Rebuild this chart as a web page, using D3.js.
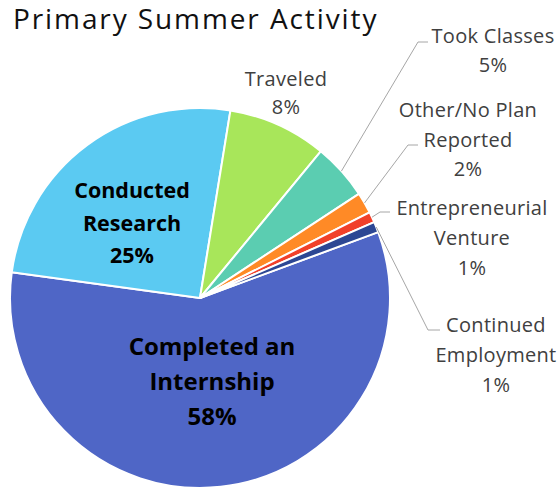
<!DOCTYPE html>
<html>
<head>
<meta charset="utf-8">
<script src="https://cdn.jsdelivr.net/npm/d3@7.9.0/dist/d3.min.js"></script>
<style>
  body { margin: 0; background: #fff; }
  svg { display: block; font-family: "Open Sans", Lato, sans-serif; }
</style>
</head>
<body>
<div id="chart"></div>
<script>
// data (share of respondents, %)
const categories = ['Completed an Internship', 'Conducted Research', 'Traveled', 'Took Classes',
  'Other/No Plan Reported', 'Entrepreneurial Venture', 'Continued Employment'];
const values = [57.8, 25.4, 8.4, 4.8, 1.8, 0.9, 0.9];
const labelLines = [['Completed an', 'Internship'], ['Conducted', 'Research'], ['Traveled'],
  ['Took Classes'], ['Other/No Plan', 'Reported'], ['Entrepreneurial', 'Venture'], ['Continued', 'Employment']];
const colors = ['#4f66c6', '#5bcaf2', '#a8e65a', '#5bcdb1', '#ff8a26', '#f1402a', '#2c4794'];

const width = 559, height = 490;
const cx = 200, cy = 298, radius = 190;

// label placement: inside labels, or outside with an elbow leader line
const layout = [
  { x: 212, y: 355, inside: true, size: 24, lh: 35 },
  { x: 132, y: 198, inside: true, size: 21.5, lh: 32.5 },
  { x: 286, y: 86, size: 20, lh: 27.5 },
  { x: 493, y: 43, size: 20, lh: 29 },
  { x: 468, y: 117, size: 20, lh: 29.5, elbow: [408, 145], end: [418, 145] },
  { x: 472, y: 215, size: 20, lh: 30, elbow: [380, 212], end: [390, 212] },
  { x: 496, y: 332, size: 20, lh: 30, elbow: [428, 330], end: [440, 330] },
];
layout[3].elbow = [418, 42];
layout[3].end = [428, 42];

const data = categories.map((name, i) => ({ name, value: values[i], lines: labelLines[i], color: colors[i], pos: layout[i] }));

const svg = d3.select('#chart').append('svg')
  .attr('width', width)
  .attr('height', height)
  .attr('viewBox', `0 0 ${width} ${height}`);

svg.append('text')
  .attr('x', 13)
  .attr('y', 29)
  .attr('font-size', 28)
  .attr('letter-spacing', 1.9)
  .attr('fill', '#111')
  .text('Primary Summer Activity');

const pie = d3.pie()
  .sort(null)
  .value(d => d.value)
  .startAngle(69.7 * Math.PI / 180)
  .endAngle((69.7 + 360) * Math.PI / 180);

const arc = d3.arc().innerRadius(0).outerRadius(radius);
const arcs = pie(data);

const g = svg.append('g').attr('transform', `translate(${cx},${cy})`);

g.selectAll('path')
  .data(arcs)
  .join('path')
  .attr('d', arc)
  .attr('fill', d => d.data.color)
  .attr('stroke', '#fff')
  .attr('stroke-width', 2)
  .attr('stroke-linejoin', 'round');

// leader lines
const pointOnRim = (d) => {
  const a = (d.startAngle + d.endAngle) / 2;
  return [cx + radius * Math.sin(a), cy - radius * Math.cos(a)];
};

svg.append('g')
  .selectAll('polyline')
  .data(arcs.filter(d => d.data.pos.elbow))
  .join('polyline')
  .attr('points', d => [pointOnRim(d), d.data.pos.elbow, d.data.pos.end].map(p => p.join(',')).join(' '))
  .attr('fill', 'none')
  .attr('stroke', '#a6a6a6')
  .attr('stroke-width', 1);

// labels
const labels = svg.append('g')
  .selectAll('text')
  .data(arcs)
  .join('text')
  .attr('text-anchor', 'middle')
  .attr('font-size', d => d.data.pos.size)
  .attr('font-weight', d => d.data.pos.inside ? 'bold' : 'normal')
  .attr('letter-spacing', d => d.data.pos.inside ? 0 : 0.3)
  .attr('fill', d => d.data.pos.inside ? '#000' : '#404040');

labels.each(function (d) {
  const t = d3.select(this);
  const rows = [...d.data.lines, Math.round(d.data.value) + '%'];
  rows.forEach((r, i) => {
    t.append('tspan')
      .attr('x', d.data.pos.x)
      .attr('y', d.data.pos.y + i * d.data.pos.lh)
      .text(r);
  });
});
</script>
</body>
</html>
